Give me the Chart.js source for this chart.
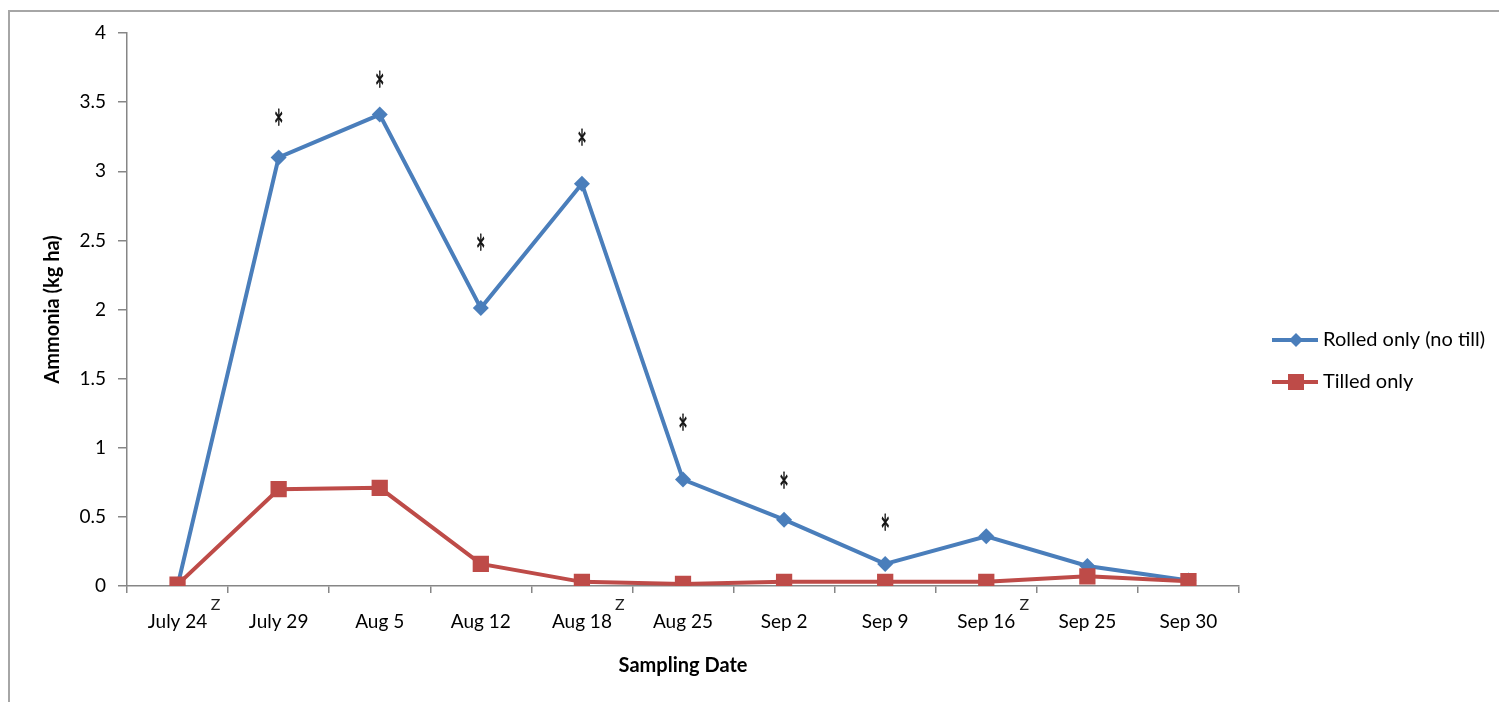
<!DOCTYPE html>
<html>
<head>
<meta charset="utf-8">
<script src="https://cdn.jsdelivr.net/npm/chart.js@4/dist/chart.umd.min.js"></script>
<style>
  html, body { margin: 0; padding: 0; background: #fff; }
  #wrap { position: relative; width: 1499px; height: 702px; overflow: hidden; }
  #frame { position: absolute; left: 8px; top: 10px; width: 1600px; height: 800px;
           border-left: 2px solid #a6a6a6; border-top: 2px solid #a6a6a6; }
  #c { position: absolute; left: 0; top: 0; }
</style>
</head>
<body>
<div id="wrap">
  <div id="frame"></div>
  <canvas id="c" width="1499" height="702"></canvas>
</div>
<script>
// Sampling dates (x categories)
const samplingDates = ['July 24', 'July 29', 'Aug 5', 'Aug 12', 'Aug 18', 'Aug 25',
                       'Sep 2', 'Sep 9', 'Sep 16', 'Sep 25', 'Sep 30'];

// Ammonia, kg ha
const rolledOnly = [0.00, 3.10, 3.41, 2.01, 2.91, 0.77, 0.48, 0.16, 0.36, 0.145, 0.04];
const tilledOnly = [0.01, 0.70, 0.71, 0.16, 0.03, 0.015, 0.03, 0.03, 0.03, 0.07, 0.035];

// Significance marks: date index and height (kg ha) of each asterisk
const sigIndex  = [1, 2, 3, 4, 5, 6, 7];
const sigHeight = [3.41, 3.68, 2.50, 3.26, 1.20, 0.78, 0.48];

// Dates carrying a "Z" note beside their label
const zIndex = [0, 4, 8];

const BLUE = '#4a7ebb';
const RED = '#be4b48';
const AXIS = '#868686';
const SANS = 'Lato, "Open Sans", sans-serif';

const markersPlugin = {
  id: 'sigMarkers',
  afterDatasetsDraw(chart) {
    const ctx = chart.ctx;
    const xs = chart.scales.x, ys = chart.scales.y;
    ctx.save();
    ctx.fillStyle = '#111';
    ctx.strokeStyle = '#111';
    ctx.lineWidth = 0.6;
    ctx.font = '20px "DejaVu Sans"';
    ctx.textAlign = 'center';
    ctx.textBaseline = 'alphabetic';
    sigIndex.forEach((idx, k) => {
      const px = xs.getPixelForValue(idx);
      const py = ys.getPixelForValue(sigHeight[k]);
      ctx.save();
      ctx.translate(px, py);
      ctx.scale(0.75, 1.75);
      ctx.fillText('*', 0, 11.4);
      ctx.strokeText('*', 0, 11.4);
      ctx.restore();
    });
    ctx.fillStyle = '#222';
    ctx.font = '16px ' + SANS;
    ctx.textBaseline = 'middle';
    zIndex.forEach(idx => {
      const px = xs.getPixelForValue(idx);
      ctx.fillText('Z', px + 38, ys.bottom + 19);
    });
    ctx.restore();
  }
};

const legendPlugin = {
  id: 'sideLegend',
  afterDraw(chart) {
    const ctx = chart.ctx;
    const x0 = chart.chartArea.right + 33;
    ctx.save();
    chart.data.datasets.forEach(ds => {
      const y = 340 + ds.legendRow * 42;
      ctx.strokeStyle = ds.borderColor;
      ctx.lineWidth = 4;
      ctx.beginPath();
      ctx.moveTo(x0, y);
      ctx.lineTo(x0 + 46, y);
      ctx.stroke();
      ctx.fillStyle = ds.backgroundColor;
      const cx = x0 + 24;
      if (ds.pointStyle === 'rectRot') {
        ctx.beginPath();
        ctx.moveTo(cx, y - 7);
        ctx.lineTo(cx + 7, y);
        ctx.lineTo(cx, y + 7);
        ctx.lineTo(cx - 7, y);
        ctx.closePath();
        ctx.fill();
      } else {
        ctx.fillRect(cx - 8, y - 8, 16, 16);
      }
      ctx.fillStyle = '#000';
      ctx.font = '20px ' + SANS;
      ctx.textAlign = 'left';
      ctx.textBaseline = 'middle';
      ctx.fillText(ds.label, x0 + 51, y);
    });
    ctx.restore();
  }
};

new Chart(document.getElementById('c'), {
  type: 'line',
  data: {
    labels: samplingDates,
    datasets: [
      {
        label: 'Tilled only',
        data: tilledOnly,
        legendRow: 1,
        borderColor: RED,
        backgroundColor: RED,
        borderWidth: 4,
        pointStyle: 'rect',
        pointRadius: 11.5,
        pointBorderWidth: 0,
        tension: 0
      },
      {
        label: 'Rolled only (no till)',
        data: rolledOnly,
        legendRow: 0,
        borderColor: BLUE,
        backgroundColor: BLUE,
        borderWidth: 4,
        pointStyle: 'rectRot',
        pointRadius: 8,
        pointBorderWidth: 0,
        tension: 0
      }
    ]
  },
  options: {
    responsive: false,
    animation: false,
    events: [],
    layout: { padding: { left: 0, right: 260, top: 33, bottom: 0 } },
    plugins: {
      legend: { display: false },
      tooltip: { enabled: false }
    },
    scales: {
      x: {
        offset: true,
        grid: { display: true, drawOnChartArea: false, drawTicks: true, tickLength: 7,
                offset: true, color: AXIS, lineWidth: 1.5 },
        border: { display: true, color: AXIS, width: 1.5 },
        ticks: { color: '#000', font: { family: SANS, size: 19 }, padding: 17,
                 maxRotation: 0, autoSkip: false },
        title: { display: true, text: 'Sampling Date', color: '#000',
                 font: { family: SANS, size: 20, weight: 'bold' }, padding: 24 },
        afterFit(scale) { scale.height = 702 - 586; }
      },
      y: {
        min: 0, max: 4,
        ticks: { stepSize: 0.5, color: '#000', font: { family: SANS, size: 19 }, padding: 12,
                 callback: v => String(Math.round(v * 10) / 10) },
        grid: { display: true, drawOnChartArea: false, drawTicks: true, tickLength: 9,
                color: AXIS, lineWidth: 1.5 },
        border: { display: true, color: AXIS, width: 1.5 },
        title: { display: true, text: 'Ammonia (kg ha)', color: '#000',
                 font: { family: SANS, size: 20, weight: 'bold' }, padding: 41 },
        afterFit(scale) { scale.width = 127; }
      }
    }
  },
  plugins: [markersPlugin, legendPlugin]
});
</script>
</body>
</html>
